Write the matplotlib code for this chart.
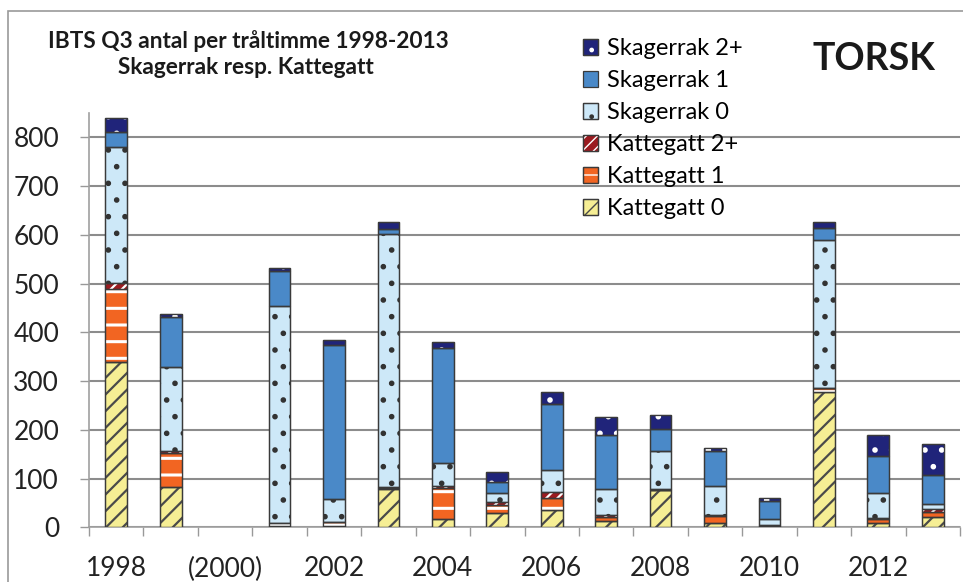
import matplotlib
matplotlib.use("Agg")
import matplotlib.pyplot as plt
from matplotlib.patches import Patch, Rectangle
from matplotlib.legend_handler import HandlerTuple
import numpy as np

plt.rcParams['font.family'] = ['Lato', 'DejaVu Sans']

nan = float('nan')
years = list(range(1998, 2014))
tick_labels = ['1998', '', '(2000)', '', '2002', '', '2004', '', '2006', '',
               '2008', '', '2010', '', '2012', '']

# counts per trawl hour, 2000 has no survey
katt0 = [340, 83, nan, 3, 2, 78, 17, 29, 35, 13, 76, 9, 2, 278, 9, 21]
katt1 = [148, 69, nan, 5, 8, 2, 63, 16, 26, 8, 1, 14, 1, 7, 9, 10]
katt2 = [14, 4, nan, 1, 0, 3, 4, 6, 11, 4, 2, 3, 1, 1, 2, 6]
skag0 = [279, 172, nan, 445, 48, 519, 48, 20, 46, 54, 77, 59, 14, 304, 50, 11]
skag1 = [30, 104, nan, 71, 315, 11, 235, 21, 135, 111, 46, 71, 36, 24, 76, 60]
skag2 = [29, 5, nan, 8, 11, 13, 13, 22, 25, 37, 28, 7, 7, 13, 43, 62]

series = [
    # name, values, face, hatch, hatch colour
    ('Kattegatt 0', katt0, '#F6EE94', '//', '#4a4a4a'),
    ('Kattegatt 1', katt1, '#F26522', '-', 'white'),
    ('Kattegatt 2+', katt2, '#9B1B20', '///', 'white'),
    ('Skagerrak 0', skag0, '#CDE8F8', '.', '#333333'),
    ('Skagerrak 1', skag1, '#4A89C8', '', 'none'),
    ('Skagerrak 2+', skag2, '#20247A', '.', 'white'),
]

W, H = 963, 582
fig = plt.figure(figsize=(W / 100, H / 100), dpi=100)
ax = fig.add_axes([89 / W, (H - 527.3) / H, (960 - 89) / W, (527.3 - 113) / H])

x = np.arange(len(years))
bottom = np.zeros(len(years))
handles = {}
for name, vals, face, hatch, hcol in series:
    vals = np.array(vals, dtype=float)
    ax.bar(x, vals, 0.4, bottom=bottom, color=face, edgecolor='#3a3a3a',
           linewidth=0.9, zorder=3)
    if hatch:
        with plt.rc_context({'hatch.linewidth': 2.2 if hatch == '-' else 1.6}):
            ax.bar(x, vals, 0.4, bottom=bottom, fill=False, hatch=hatch,
                   edgecolor=hcol, linewidth=0, zorder=3.5)
    ax.bar(x, vals, 0.4, bottom=bottom, fill=False, edgecolor='#3a3a3a',
           linewidth=0.9, zorder=4)
    bottom += vals
    h_fill = Patch(facecolor=face, edgecolor='#3a3a3a', linewidth=0.9)
    if hatch:
        h_hatch = Patch(fill=False, hatch=hatch, edgecolor=hcol, linewidth=0)
        handles[name] = (h_fill, h_hatch, Patch(fill=False, edgecolor='#3a3a3a', linewidth=0.9))
    else:
        handles[name] = (h_fill,)

ax.set_xlim(-0.5, len(years) - 0.5)
ax.set_ylim(0, 850)
ax.set_yticks(range(0, 801, 100))
ax.yaxis.grid(True, color='#8c8c8c', linewidth=1.5, zorder=0)
ax.set_axisbelow(True)

ax.set_xticks(x)
ax.set_xticklabels(tick_labels)
ax.set_xticks(np.arange(-0.5, len(years)), minor=True)
ax.tick_params(axis='x', which='major', length=0, pad=21, labelsize=19, colors='#222222')
ax.tick_params(axis='x', which='minor', length=6.5, width=1, color='#999999')
ax.tick_params(axis='y', length=6.5, width=1, color='#999999', pad=15,
               labelsize=19, labelcolor='#222222')

for side in ['top', 'right']:
    ax.spines[side].set_visible(False)
for side in ['left', 'bottom']:
    ax.spines[side].set_color('#a0a0a0')
    ax.spines[side].set_linewidth(1.2)

order = ['Skagerrak 2+', 'Skagerrak 1', 'Skagerrak 0',
         'Kattegatt 2+', 'Kattegatt 1', 'Kattegatt 0']
leg = fig.legend([handles[n] for n in order], order,
                 handler_map={tuple: HandlerTuple(ndivide=1)},
                 loc='upper left', bbox_to_anchor=(583 / W, 1 - 38 / H),
                 frameon=False, fontsize=17, handlelength=0.65, handleheight=0.65,
                 handletextpad=0.35, labelspacing=0.47, borderpad=0, borderaxespad=0)

fig.text(248 / W, 1 - 48 / H, 'IBTS Q3 antal per tråltimme 1998-2013',
         ha='center', va='baseline', fontsize=16.3, fontweight='bold', color='#1a1a1a')
fig.text(246 / W, 1 - 74 / H, 'Skagerrak resp. Kattegatt',
         ha='center', va='baseline', fontsize=16.3, fontweight='bold', color='#1a1a1a')
fig.text(874 / W, 1 - 70 / H, 'TORSK', ha='center', va='baseline',
         fontsize=27, fontweight='bold', color='#1a1a1a')

# outer chart frame, cut off at right and bottom like the original
fig.patches.append(Rectangle((8 / W, -0.1), 1.2, 1 - 11 / H + 0.1,
                             transform=fig.transFigure, fill=False,
                             edgecolor='#9a9a9a', linewidth=1.2))

fig.savefig('out.png', dpi=100)
